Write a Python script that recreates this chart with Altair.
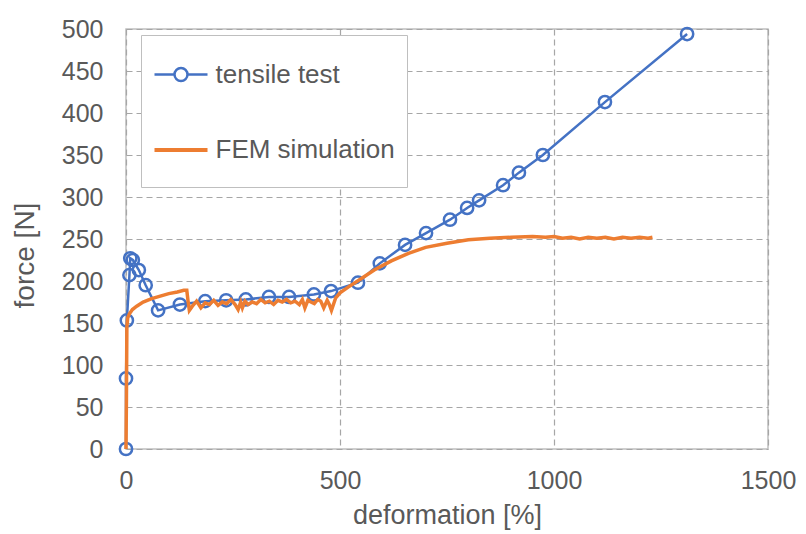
import altair as alt
import pandas as pd

# ---- data ----
tensile_x = [0, 0, 2, 8, 10, 16, 30, 46, 75, 126, 185, 234, 280, 334, 381, 439, 479,
             542, 593, 652, 701, 757, 797, 825, 881, 918, 974, 1119, 1311]
tensile_y = [0, 84, 153, 207, 227, 225, 213, 195, 165, 172, 176, 177, 178, 181, 181, 184, 188,
             198, 221, 243, 257, 273, 287, 296, 314, 329, 350, 413, 494]

fem_x = [0, 1, 2, 4, 8, 15, 25, 40, 60, 80, 100, 120, 135, 142, 145, 148, 155, 165, 175, 185,
         195, 205, 215, 225, 235, 245, 255, 262, 268, 272, 278, 285, 295, 305, 315, 325, 335,
         345, 355, 365, 375, 385, 395, 405, 412, 418, 425, 432, 440, 448, 455, 462, 470, 475,
         480, 490, 500, 520, 550, 580, 620, 660, 700, 750, 800, 850, 900, 950, 980, 1000, 1020,
         1040, 1060, 1080, 1100, 1120, 1140, 1160, 1180, 1200, 1220, 1230]
fem_y = [0, 60, 145, 156, 161, 166, 170, 175, 179, 182, 185, 187, 189, 189, 176, 165, 170, 176,
         168, 174, 172, 177, 171, 175, 173, 178, 172, 166, 175, 168, 176, 172, 175, 173, 178,
         174, 176, 172, 177, 175, 178, 174, 176, 172, 178, 168, 177, 175, 173, 178, 176, 168,
         177, 172, 165, 180, 186, 193, 203, 213, 224, 233, 240, 245, 249, 251, 252, 253, 252,
         253, 251, 252, 250, 252, 251, 252, 250, 252, 251, 252, 251, 252]

SERIES = ["tensile test", "FEM simulation"]
COLORS = ["#4472C4", "#ED7D31"]
x_ticks = [0, 500, 1000, 1500]
y_ticks = list(range(0, 501, 50))

t_df = pd.DataFrame({"x": tensile_x, "y": tensile_y, "series": SERIES[0],
                     "i": list(range(len(tensile_x)))})
f_df = pd.DataFrame({"x": fem_x, "y": fem_y, "series": SERIES[1],
                     "i": list(range(len(fem_x)))})

FONT = "Liberation Sans"
TXT = "#595959"
GRID = "#A6A6A6"

r = 0.245
# trailing move-tos only widen the symbol's bounds vertically (nothing drawn)
line_circle = (f"M-1,0L-{r},0M{r},0L1,0M-{r},0A{r},{r},0,1,1,{r},0"
               f"A{r},{r},0,1,1,-{r},0M0,-1M0,0.66")
plain_line = "M-1,0L1,0M0,-1M0,0.66"

legend = alt.Legend(
    title=None, orient="none", legendX=15, legendY=6,
    padding=11.5, rowPadding=18, labelOffset=6, labelLimit=400,
    labelFont=FONT, labelFontSize=26, labelColor=TXT,
    symbolSize=2809, symbolStrokeWidth=2.5, symbolFillColor="transparent",
    fillColor="white", strokeColor="#BFBFBF",
)

color_scale = alt.Scale(domain=SERIES, range=COLORS)

x_enc = alt.X("x:Q", scale=alt.Scale(domain=[0, 1500], nice=False, zero=False),
              axis=alt.Axis(values=x_ticks, title="deformation [%]", format="d",
                            ticks=False, tickSize=0, domain=False,
                            grid=True, gridDash=[6, 4], gridColor=GRID, gridWidth=1.2,
                            labelFont=FONT, labelFontSize=25, labelColor=TXT,
                            labelPadding=19, labelFlush=False,
                            titleFont=FONT, titleFontSize=27, titleColor=TXT,
                            titleFontWeight="normal", titleBaseline="alphabetic",
                            titleY=74, titleX=321))
y_enc = alt.Y("y:Q", scale=alt.Scale(domain=[0, 500], nice=False),
              axis=alt.Axis(values=y_ticks, title="force [N]", format="d",
                            ticks=False, tickSize=0, domain=False,
                            grid=True, gridDash=[6, 4], gridColor=GRID, gridWidth=1.2,
                            labelFont=FONT, labelFontSize=25, labelColor=TXT,
                            labelPadding=23, labelFlush=False,
                            titleFont=FONT, titleFontSize=28, titleColor=TXT,
                            titleFontWeight="normal", titleBaseline="alphabetic",
                            titleAngle=270, titleX=-93, titleY=226))

# legend-only layer: no rows survive the filter, legend comes from the scale domains
leg_layer = alt.Chart(t_df).transform_filter("false").mark_point(
    filled=False, opacity=1).encode(
    x=x_enc, y=y_enc,
    color=alt.Color("series:N", scale=color_scale, legend=legend),
    shape=alt.Shape("series:N", scale=alt.Scale(domain=SERIES, range=[line_circle, plain_line]),
                    legend=legend),
    strokeWidth=alt.StrokeWidth("series:N", scale=alt.Scale(domain=SERIES, range=[2.5, 4]),
                                legend=legend),
)

t_line = alt.Chart(t_df).mark_line(strokeWidth=2.5).encode(
    x="x:Q", y="y:Q", color=alt.Color("series:N"), order="i:Q")
t_pts = alt.Chart(t_df).mark_point(filled=False, size=150, strokeWidth=2.5, opacity=1).encode(
    x="x:Q", y="y:Q", color=alt.Color("series:N"))
f_line = alt.Chart(f_df).mark_line(strokeWidth=3.5).encode(
    x="x:Q", y="y:Q", color=alt.Color("series:N"), order="i:Q")

chart = alt.layer(leg_layer, t_line, t_pts, f_line).properties(
    width=642, height=420,
    autosize=alt.AutoSizeParams(type="none"),
    padding={"left": 118, "top": 21, "right": 30, "bottom": 87},
    background="white",
).configure_view(stroke="#BFBFBF", strokeWidth=1.5)

chart.save("out.html", embed_options={"renderer": "svg", "actions": False})
